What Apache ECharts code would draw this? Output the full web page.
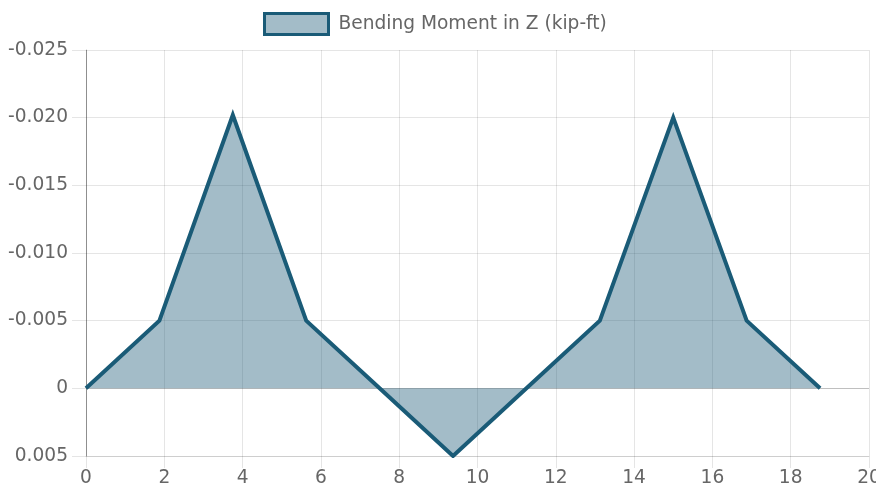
<!DOCTYPE html>
<html>
<head>
<meta charset="utf-8">
<script src="https://cdn.jsdelivr.net/npm/echarts@6/dist/echarts.min.js"></script>
<style>
html,body{margin:0;padding:0;background:#fff;}
#c{width:876px;height:490px;}
</style>
</head>
<body>
<div id="c"></div>
<script>
const seriesName = 'Bending Moment in Z (kip-ft)';
const xPositions = [0, 1.875, 3.75, 5.625, 7.5, 9.375, 11.25, 13.125, 15, 16.875, 18.75];
const momentZ = [0, -0.005, -0.0202, -0.005, 0, 0.005, 0, -0.005, -0.0200, -0.005, 0];
const xTicks = { min: 0, max: 20, interval: 2 };
const yTicks = { min: -0.025, max: 0.005, interval: 0.005 };

const lineColor = '#1a5b77';
const areaColor = 'rgba(25,88,118,0.4)';
const gridColor = 'rgba(0,0,0,0.1)';
const zeroColor = 'rgba(0,0,0,0.25)';
const textColor = '#666';
const font = 'DejaVu Sans';
const fs = 18.6;

const chart = echarts.init(document.getElementById('c'), null, { renderer: 'canvas' });
chart.setOption({
  animation: false,
  textStyle: { fontFamily: font },
  legend: {
    top: 12,
    left: 263,
    padding: 0,
    itemWidth: 64,
    itemHeight: 21,
    itemGap: 10,
    textStyle: { color: textColor, fontSize: fs, fontFamily: font, padding: [0, 0, 0, 5] },
    data: [{
      name: seriesName,
      icon: 'rect',
      itemStyle: { color: areaColor, borderColor: lineColor, borderWidth: 3 }
    }]
  },
  grid: { left: 86, right: 7, top: 50, bottom: 34, containLabel: false, outerBoundsMode: 'none' },
  xAxis: {
    type: 'value',
    min: xTicks.min, max: xTicks.max, interval: xTicks.interval,
    axisLine: { show: true, onZero: false, lineStyle: { color: gridColor, width: 1 } },
    axisTick: { show: true, length: 12, lineStyle: { color: gridColor } },
    axisLabel: { color: textColor, fontSize: fs, fontFamily: font, margin: 13, hideOverlap: false, showMaxLabel: true },
    splitLine: { show: true, lineStyle: { color: [zeroColor, gridColor, gridColor, gridColor, gridColor, gridColor, gridColor, gridColor, gridColor, gridColor, gridColor], width: 1 } }
  },
  yAxis: {
    type: 'value',
    inverse: true,
    min: yTicks.min, max: yTicks.max, interval: yTicks.interval,
    axisLine: { show: true, onZero: false, lineStyle: { color: zeroColor, width: 1 } },
    axisTick: { show: true, length: 14, lineStyle: { color: gridColor } },
    axisLabel: {
      color: textColor, fontSize: fs, fontFamily: font, margin: 18,
      formatter: v => Math.abs(v) < 1e-10 ? '0' : v.toFixed(3)
    },
    splitLine: { show: true, lineStyle: { color: [gridColor, gridColor, gridColor, gridColor, gridColor, zeroColor, gridColor], width: 1 } }
  },
  series: [{
    name: seriesName,
    type: 'line',
    data: xPositions.map((x, i) => [x, momentZ[i]]),
    showSymbol: false,
    symbol: 'none',
    lineStyle: { color: lineColor, width: 4, join: 'miter', cap: 'butt' },
    itemStyle: { color: lineColor },
    areaStyle: { color: areaColor, opacity: 1, origin: 'auto' },
    z: 3
  }]
});
</script>
</body>
</html>
